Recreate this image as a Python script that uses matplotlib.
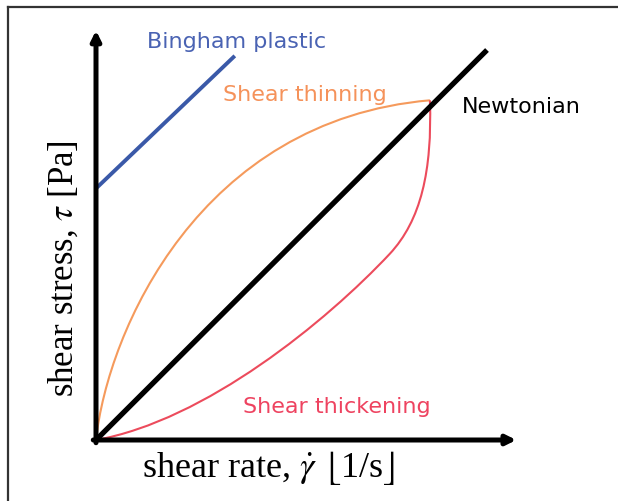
import numpy as np
import matplotlib.pyplot as plt
from matplotlib.lines import Line2D
from matplotlib.path import Path
from matplotlib.patches import PathPatch

plt.rcParams['mathtext.fontset'] = 'stix'

# shear rate / shear stress in arbitrary units
newton_x = [0.0, 10.0]
newton_y = [0.0, 10.0]

bingham_x = [0.0, 3.55]
bingham_y = [6.45, 9.85]

# cubic bezier vertices (start, ctrl, ctrl, end, ctrl, ctrl, end)
thin_x = [0.0, 0.30, 2.65, 8.54]
thin_y = [0.0, 2.80, 8.20, 8.71]

thick_x = [0.0, 2.80, 5.90, 7.51, 8.31, 8.60, 8.54]
thick_y = [0.0, 0.50, 3.05, 4.77, 5.63, 6.90, 8.71]

labels = ['Bingham plastic', 'Shear thinning', 'Newtonian', 'Shear thickening']


def bezier(xs, ys):
    verts = list(zip(xs, ys))
    codes = [Path.MOVETO] + [Path.CURVE4] * (len(verts) - 1)
    return Path(verts, codes)


fig = plt.figure(figsize=(6.18, 5.01), dpi=100)
ax = fig.add_axes([0, 0, 1, 1])
ax.set_xlim(-96 / 39.1, (618 - 96) / 39.1)
ax.set_ylim((440 - 501) / 39.0, 440 / 39.0)
ax.axis('off')

# frame lines at top and left
fig.add_artist(Line2D([8 / 618, 1], [1 - 7 / 501, 1 - 7 / 501], color='#333333', lw=1.6))
fig.add_artist(Line2D([8 / 618, 8 / 618], [0, 1 - 7 / 501], color='#333333', lw=1.6))

# axes with arrow heads
arrow = dict(arrowstyle='-|>', lw=3.6, color='black', mutation_scale=14,
             shrinkA=0, shrinkB=0)
ax.annotate('', xy=(0, 10.5), xytext=(0, -0.07), arrowprops=arrow)
ax.annotate('', xy=(10.75, 0), xytext=(-0.07, 0), arrowprops=arrow)

ax.plot(bingham_x, bingham_y, color='#3a59a8', lw=2.8, solid_capstyle='butt')
ax.add_patch(PathPatch(bezier(thin_x, thin_y), fc='none', ec='#f59a5c', lw=1.5))
ax.add_patch(PathPatch(bezier(thick_x, thick_y), fc='none', ec='#ec4b5c', lw=1.5))
ax.plot(newton_x, newton_y, color='black', lw=3.8, solid_capstyle='butt')

ax.text(1.30, 10.05, labels[0], color='#4a63b3', fontsize=16)
ax.text(3.25, 8.68, labels[1], color='#f5925a', fontsize=16)
ax.text(9.35, 8.38, labels[2], color='black', fontsize=16)
ax.text(3.76, 0.705, labels[3], color='#ee4360', fontsize=16)

ax.text(1.18, -0.95, r'shear rate, $\dot{\gamma}$ $\lfloor$1/s$\rfloor$',
        family='Liberation Serif', fontsize=26, ha='left', va='baseline')
ax.text(-0.59, 1.10, r'shear stress, $\tau$ [Pa]', family='Liberation Serif',
        fontsize=25, ha='left', va='baseline', rotation=90, rotation_mode='anchor')

fig.savefig('out.png', dpi=100)
